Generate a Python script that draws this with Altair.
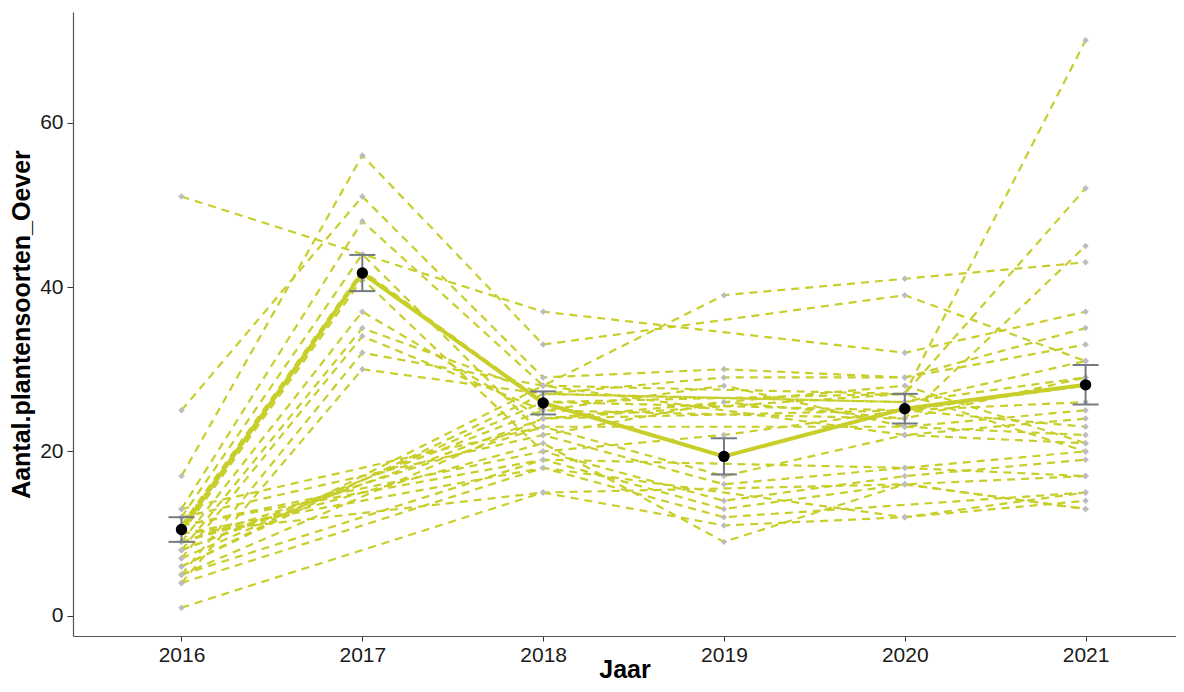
import altair as alt
import pandas as pd

# ---- data ----
years = [2016, 2017, 2018, 2019, 2020, 2021]
sites = ["A1", "A2", "A3", "A4", "A5", "A6", "A7", "A8", "A9", "A10", "A11", "A12",
         "B1", "B2", "B3", "B4", "B5", "B6", "B7", "B8", "B9", "B10", "B11", "B12",
         "B13", "B14", "B15", "B16", "B17"]
v2016 = [17, 25, 13, 51, 12, 11, 10, 9, 8, 7, 5, 4,
         13, 12, 11, 11, 10, 10, 9, 9, 8, 8, 7, 6, 6, 5, 4, 1, 5]
v2017 = [56, 51, 48, None, 44, 42, 41, 37, 35, 34, 32, 30,
         None, None, None, None, None, None, None, None, None, None, None, None,
         None, None, None, None, None]
v2018 = [33, 29, 28, 37, 22, 26, 20, 24, 27, 25, 28, 27,
         23, 22, 20, 19, 18, 15, 21, 23, 24, 25, 26, 27, 28, 19, 18, 15, 24]
v2019 = [None, 30, 39, None, 26, None, 22, None, 29, 28, None, None,
         17, 16, 14, 13, 12, 11, 9, None, None, None, None, None,
         None, None, None, None, None]
v2020 = [39, 29, 41, 32, 24, 27, 25, 27, 29, 23, 22, 26,
         22, 18, 17, 16, None, 12, 16, 23, 25, 24, 25, 26, 27, 18, 12, 16, 28]
v2021 = [31, 35, 43, 37, 45, 70, 26, 52, 33, 25, 24, 29,
         21, 20, 19, 17, 15, 14, 13, 22, 23, 29, 28, 31, 20, 17, 15, 13, 21]

mean_vals = [10.5, 41.7, 25.9, 19.4, 25.2, 28.1]
se_vals = [1.5, 2.2, 1.4, 2.2, 1.8, 2.4]

# ---- tables ----
rows = []
for i, s in enumerate(sites):
    for y, arr in zip(years, [v2016, v2017, v2018, v2019, v2020, v2021]):
        if arr[i] is not None:
            rows.append({"site": s, "year": y, "value": arr[i]})
df = pd.DataFrame(rows)

summ = pd.DataFrame({
    "year": years,
    "mean": mean_vals,
    "lo": [m - s for m, s in zip(mean_vals, se_vals)],
    "hi": [m + s for m, s in zip(mean_vals, se_vals)],
})

LINE_COL = "#C8CE2A"
PT_COL = "#BDBDBD"
EB_COL = "#737B84"
YTITLE = "Aantal.plantensoorten_Oever"

xscale = alt.Scale(domain=[2015.4, 2021.5], nice=False, zero=False)
yscale = alt.Scale(domain=[-2.45, 73.45], nice=False, zero=False)

xaxis = alt.Axis(values=years, format="d", title="Jaar", grid=False,
                 labelFontSize=21, labelPadding=3, tickSize=5,
                 titleFontSize=25, titleFontWeight="bold",
                 titleY=41, titleBaseline="alphabetic")
yaxis = alt.Axis(values=[0, 20, 40, 60], title=YTITLE, grid=False,
                 labelFontSize=21, labelPadding=4, tickSize=6,
                 titleFontSize=25, titleFontWeight="bold",
                 titleX=-44, titleY=312, titleBaseline="alphabetic")


def X():
    return alt.X("year:Q", scale=xscale, axis=xaxis, title="Jaar")


def Y(field):
    return alt.Y(f"{field}:Q", scale=yscale, axis=yaxis, title=YTITLE)


lines = alt.Chart(df).mark_line(
    strokeDash=[8, 6], strokeWidth=2.2, color=LINE_COL
).encode(x=X(), y=Y("value"), detail="site:N", order="year:Q")

pts = alt.Chart(df).mark_point(
    shape="diamond", filled=True, size=42, color=PT_COL, opacity=1
).encode(x=X(), y=Y("value"))

mean_line = alt.Chart(summ).mark_line(
    strokeWidth=4, color=LINE_COL
).encode(x=X(), y=Y("mean"))

err = alt.Chart(summ).mark_rule(strokeWidth=2, color=EB_COL).encode(
    x=X(), y=Y("lo"), y2="hi:Q")

cap_lo = alt.Chart(summ).mark_tick(
    orient="horizontal", size=26, thickness=2, color=EB_COL, opacity=1
).encode(x=X(), y=Y("lo"))
cap_hi = alt.Chart(summ).mark_tick(
    orient="horizontal", size=26, thickness=2, color=EB_COL, opacity=1
).encode(x=X(), y=Y("hi"))

mean_pts = alt.Chart(summ).mark_circle(
    size=130, color="black", opacity=1
).encode(x=X(), y=Y("mean"))

chart = alt.layer(lines, pts, mean_line, err, cap_lo, cap_hi, mean_pts).properties(
    width=1103, height=624,
    padding={"left": 65, "top": 4, "right": 0, "bottom": 48},
    autosize=alt.AutoSizeParams(type="none"),
    background="white",
).configure_view(stroke=None).configure_axis(
    labelFont="Liberation Sans", titleFont="Liberation Sans",
    labelColor="#1a1a1a", titleColor="black",
    domainColor="#555555", domainWidth=1.2,
    tickColor="#333333", tickWidth=1,
)

chart.save("out.html", embed_options={"renderer": "svg", "actions": False})
